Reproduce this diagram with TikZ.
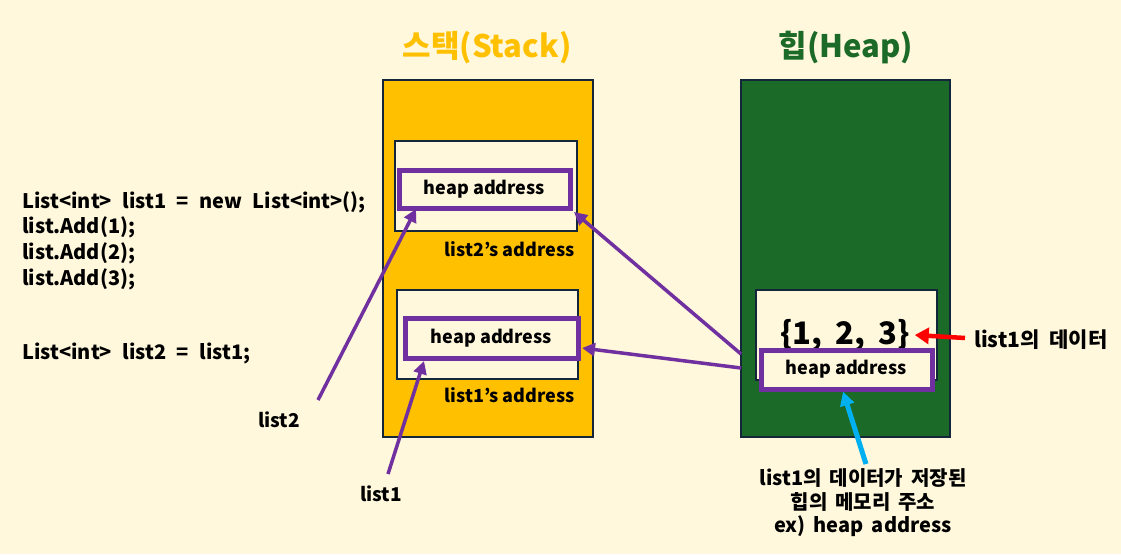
\documentclass[tikz,border=0pt]{standalone}
\usepackage{fontspec}
\setmainfont{Noto Sans CJK KR}
\usetikzlibrary{arrows.meta}
\definecolor{bg}{HTML}{FFF8DC}
\definecolor{gold}{HTML}{FFC000}
\definecolor{hgreen}{HTML}{1B6A27}
\definecolor{navy}{HTML}{13263A}
\definecolor{purp}{HTML}{7030A0}
\definecolor{cyanc}{HTML}{00B0F0}
\tikzset{
  mem/.style={draw=navy,line width=2pt,inner sep=0pt},
  cell/.style={draw=navy,fill=bg,line width=2pt,inner sep=0pt},
  addr/.style={draw=purp,fill=bg,line width=5pt,inner sep=0pt,font=\bfseries\fontsize{18}{20}\selectfont},
  lbl/.style={font=\bfseries\fontsize{19}{20}\selectfont,inner sep=0pt},
  code/.style={font=\bfseries\fontsize{20}{22}\selectfont,anchor=base west,inner sep=0pt,
    execute at begin node={\spaceskip=10.5pt\relax}},
  parrow/.style={draw=purp,line width=3.5pt,-{Triangle[length=13pt,width=13pt]}},
}
\begin{document}
\begin{tikzpicture}[x=1pt,y=-1pt]
\fill[bg] (0,0) rectangle (1121,554);
\useasboundingbox (0,0) rectangle (1121,554);

% titles
\node[font=\bfseries\fontsize{31}{33}\selectfont,text=gold] (ts) at (487,48) {스택(Stack)};
\node[font=\bfseries\fontsize{31}{33}\selectfont,text=hgreen] (th) at (846,48) {힙(Heap)};

% memory regions
\node[mem,fill=gold,minimum width=210pt,minimum height=357pt] (stack) at (488,258.5) {};
\node[mem,fill=hgreen,minimum width=209pt,minimum height=357pt] (heap) at (845.5,258.5) {};

% stack cells
\node[cell,minimum width=182pt,minimum height=90pt] (c2) at (486,186) {};
\node[addr,minimum width=171pt,minimum height=38pt] (a2) at (484.5,189) {heap address};
\node[lbl,font=\bfseries\fontsize{18}{20}\selectfont,anchor=base east] (l2a) at (575,256) {list2’s address};

\node[cell,minimum width=181pt,minimum height=89pt] (c1) at (487.5,334.5) {};
\node[addr,minimum width=173pt,minimum height=40pt] (a1) at (491.5,338) {heap address};
\node[lbl,font=\bfseries\fontsize{18}{20}\selectfont,anchor=base east] (l1a) at (575,402) {list1’s address};

% heap cell
\node[cell,minimum width=181pt,minimum height=90pt] (hc) at (846.5,335) {};
\node[font=\bfseries\fontsize{31}{32}\selectfont,inner sep=0pt,
  execute at begin node={\spaceskip=13pt\relax}] (data) at (845,335) {\{1, 2, 3\}};
\node[addr,minimum width=171pt,minimum height=39pt] (ha) at (846.5,369.5) {heap address};

% code
\node[code] (code1) at (22,208) {List<int> list1 = new List<int>();};
\node[code] (code2) at (22,233) {list.Add(1);};
\node[code] (code3) at (22,259) {list.Add(2);};
\node[code] (code4) at (22,285) {list.Add(3);};
\node[code] (code5) at (22,359) {List<int> list2 = list1;};

% labels
\node[lbl] (n2) at (279,420) {list2};
\node[lbl] (n1) at (381,494) {list1};
\node[lbl,anchor=west,font=\bfseries\fontsize{21}{22}\selectfont,
  execute at begin node={\spaceskip=10pt\relax}] (dl) at (974,340) {list1의 데이터};
\node[lbl,align=center,font=\bfseries\fontsize{20}{23.5}\selectfont,
  execute at begin node={\spaceskip=8pt\relax}] (note) at (863,503)
  {list1의 데이터가 저장된\\힙의 메모리 주소\\ex) heap address};

% connector end points
\coordinate (s2) at (318,400);
\coordinate (t2) at (416,209);
\coordinate (s1) at (388,474);
\coordinate (t1) at (424,361);
\coordinate (h1) at (741,354);
\coordinate (h2) at (741,368);
\coordinate (tc2) at (574,212);
\coordinate (ta1) at (582,348);
\coordinate (rs) at (965,338);
\coordinate (cs) at (866,464);

\draw[parrow] (s2) -- (t2);
\draw[parrow] (s1) -- (t1);
\draw[parrow] (h1) -- (tc2);
\draw[parrow] (h2) -- (ta1);
\draw[draw=red,line width=4.5pt,-{Triangle[length=14pt,width=16pt]}] (rs) -- ([xshift=5pt]data.east);
\draw[draw=cyanc,line width=5pt,-{Triangle[length=14pt,width=14pt]}] (cs) -- (ha.south -| 843,0);
\end{tikzpicture}
\end{document}
